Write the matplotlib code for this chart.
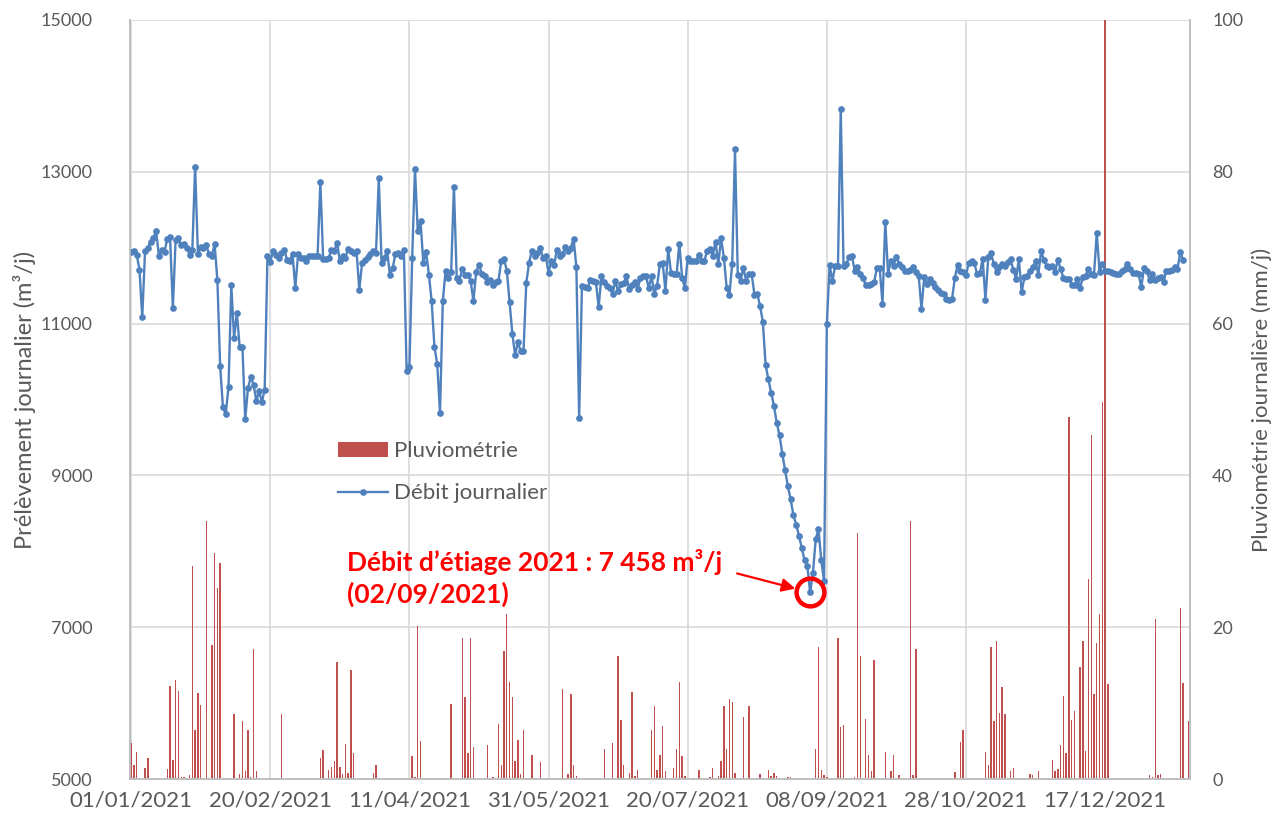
import numpy as np
import pandas as pd
import matplotlib
matplotlib.use('Agg')
import matplotlib.pyplot as plt
import matplotlib.dates as mdates
from matplotlib.patches import Patch
from matplotlib.lines import Line2D

plt.rcParams['font.family'] = ['Lato', 'DejaVu Sans']

# Débit journalier (m3/j), un point par jour depuis le 01/01/2021
debit = [
    11945, 11954, 11910, 11712, 11083, 11954, 12000, 12077, 12130, 12218,
    11890, 11975, 11945, 12120, 12138, 11206, 12108, 12130, 12033, 12050,
    12000, 11910, 11975, 13066, 11923, 12006, 12000, 12033, 11919, 11890,
    12050, 11571, 10437, 9896, 9808, 10165, 11505, 10810, 11140, 10692,
    10692, 9743, 10150, 10296, 10195, 9984, 10107, 9970, 10130, 11890,
    11810, 11963, 11901, 11866, 11932, 11975, 11844, 11830, 11919, 11470,
    11919, 11866, 11866, 11822, 11890, 11890, 11890, 11890, 12864, 11857,
    11857, 11866, 11975, 11960, 12064, 11830, 11890, 11866, 11989, 11954,
    11932, 11954, 11448, 11800, 11844, 11875, 11919, 11963, 11932, 12912,
    11800, 11866, 11963, 11637, 11734, 11919, 11932, 11890, 11975, 10380,
    10424, 11866, 13040, 12218, 12350, 11800, 11940, 11646, 11294, 10692,
    10468, 9822, 11294, 11699, 11602, 11681, 12802, 11602, 11567, 11725,
    11646, 11637, 11567, 11294, 11681, 11778, 11655, 11624, 11549, 11580,
    11514, 11549, 11567, 11822, 11853, 11699, 11281, 10864, 10582, 10758,
    10635, 10635, 11536, 11800, 11963, 11897, 11932, 12000, 11866, 11897,
    11668, 11830, 11769, 11975, 11890, 11919, 12006, 11963, 12000, 12120,
    11743, 9756, 11496, 11479, 11465, 11575, 11567, 11553, 11215, 11624,
    11553, 11496, 11465, 11391, 11567, 11426, 11523, 11536, 11624, 11450,
    11514, 11549, 11450, 11602, 11624, 11624, 11470, 11628, 11395, 11497,
    11782, 11804, 11431, 11980, 11672, 11660, 11650, 12055, 11606, 11466,
    11870, 11826, 11830, 11830, 11905, 11826, 11830, 11958, 11980, 11892,
    12081, 11782, 12125, 11870, 11475, 11378, 11791, 13299, 11642, 11563,
    11738, 11563, 11659, 11650, 11378, 11395, 11233, 11026, 10455, 10266,
    10090, 9914, 9694, 9527, 9285, 9066, 8859, 8683, 8472, 8353,
    8200, 8046, 7879, 7804, 7458, 7716, 8156, 8296, 7879, 7606,
    10991, 11777, 11559, 11764, 11764, 13830, 11764, 11786, 11873, 11895,
    11699, 11751, 11655, 11603, 11502, 11515, 11520, 11546, 11734, 11730,
    11262, 12345, 11655, 11830, 11764, 11882, 11786, 11742, 11699, 11699,
    11708, 11751, 11680, 11633, 11196, 11611, 11524, 11590, 11533, 11480,
    11437, 11402, 11393, 11327, 11314, 11327, 11603, 11777, 11699, 11677,
    11646, 11795, 11821, 11795, 11655, 11664, 11851, 11314, 11873, 11925,
    11786, 11677, 11742, 11786, 11764, 11808, 11852, 11707, 11590, 11852,
    11415, 11611, 11633, 11699, 11742, 11821, 11646, 11952, 11838, 11764,
    11751, 11764, 11677, 11838, 11720, 11603, 11590, 11590, 11515, 11502,
    11590, 11472, 11611, 11633, 11720, 11655, 11646, 12192, 11677, 11786,
    11699, 11690, 11677, 11664, 11655, 11655, 11699, 11720, 11786, 11720,
    11664, 11664, 11655, 11480, 11734, 11699, 11568, 11655, 11580, 11600,
    11612, 11546, 11699, 11690, 11708, 11742, 11720, 11939, 11838,
]

# Pluviométrie journalière (mm/j) : jours de pluie (décalage depuis le 01/01/2021)
pluie_jours = [
    0, 1, 2, 5, 6, 13, 14, 15, 16, 17, 18, 19, 21, 22, 23, 24, 25, 26, 27, 29,
    30, 31, 32, 34, 37, 39, 40, 41, 42, 43, 44, 45, 54, 59, 60,
    68, 69, 71, 72, 73, 74, 75, 76, 77, 78, 79, 80, 87, 88, 101, 102, 103, 104,
    115, 119, 120, 121, 122, 123,
    128, 130, 132, 133, 134, 135, 136, 137, 138, 139, 140, 141, 144, 147, 155,
    157, 158, 159, 160, 170, 173, 175, 176, 177, 179, 180, 181, 182, 187, 188,
    189, 190, 191, 192, 195, 196, 197, 198, 199, 204, 208, 209, 211, 212, 213,
    214, 215, 216, 217, 220, 222, 226, 229, 230, 231, 232, 236, 237, 246, 247,
    248, 249, 250,
    254, 255, 256, 257, 259, 260, 261, 262, 264, 265, 266, 267, 271, 272, 273,
    274, 275, 276, 280, 281, 282, 296, 298, 299, 302, 307, 308, 309, 310, 311,
    312, 313,
    314, 315, 316, 317, 321, 323, 324, 325, 326, 331, 332, 333, 334, 335, 336,
    337, 338, 339, 340, 341, 342, 343, 344, 345, 346, 347, 348, 349, 350, 351,
    353, 366, 367, 368, 369, 370, 371, 377, 378, 380,
]
pluie_mm = [
    4.7, 1.8, 3.5, 1.5, 2.8, 1.3, 12.3, 2.5, 13.0, 11.6, 0.3, 0.2, 0.5, 28.0, 6.5, 11.3, 9.8, 0.1, 34.0, 17.6,
    29.8, 25.2, 28.4, 0.1, 8.6, 0.6, 7.6, 1.0, 6.5, 0.2, 17.1, 1.1, 8.6, 0.1, 0.1,
    2.8, 3.8, 1.2, 1.6, 2.4, 15.4, 1.6, 0.6, 4.6, 0.8, 14.4, 3.4, 0.8, 1.8, 3.0, 0.3, 20.2, 5.0,
    9.9, 18.6, 10.8, 3.4, 18.6, 4.2,
    4.5, 0.2, 7.2, 1.8, 16.8, 21.8, 12.8, 10.8, 2.4, 5.2, 0.6, 6.4, 3.2, 2.2, 11.8,
    0.6, 11.2, 1.8, 0.4, 4.0, 4.8, 16.2, 7.8, 1.8, 0.8, 11.4, 0.4, 1.2, 6.4, 9.6,
    1.2, 3.2, 7.0, 1.0, 1.4, 4.0, 12.8, 3.0, 0.4, 1.2, 0.2, 1.4, 0.4, 2.4, 9.6,
    4.0, 10.6, 10.2, 0.8, 8.2, 9.6, 0.6, 1.2, 0.4, 0.8, 0.4, 0.2, 0.2, 4.0, 17.4,
    1.2, 0.5, 0.3,
    18.6, 6.9, 7.1, 0.1, 0.1, 0.3, 32.4, 16.2, 7.9, 3.2, 1.1, 15.7, 3.5, 0.1, 1.1,
    3.2, 0.1, 0.5, 34.0, 0.5, 17.1, 0.9, 4.9, 6.5, 0.1, 3.5, 1.9, 17.4, 7.7, 18.2,
    8.7, 12.1,
    8.6, 0.1, 1.0, 1.5, 0.1, 0.7, 0.5, 0.1, 1.0, 2.5, 1.1, 1.3, 4.5, 11.0, 3.4,
    47.7, 7.8, 9.0, 0.1, 14.8, 18.2, 3.7, 26.3, 45.3, 11.2, 17.9, 21.8, 49.7, 120.0, 12.5,
    0.1, 0.5, 0.3, 21.1, 0.5, 0.7, 0.1, 22.5, 12.7, 7.7,
]

date_debut = pd.Timestamp('2021-01-01')
ticks_jours = [0, 50, 100, 150, 200, 250, 300, 350]
etiage_jour = 244
etiage_valeur = 7458

BLEU = '#4F81BD'
ROUGE = '#C0504D'
GRIS_TEXTE = '#595959'
GRIS_GRILLE = '#d9d9d9'

dates_debit = pd.date_range(date_debut, periods=len(debit), freq='D')
dates_pluie = date_debut + pd.to_timedelta(pluie_jours, unit='D')
dates_ticks = date_debut + pd.to_timedelta(ticks_jours, unit='D')
date_etiage = date_debut + pd.Timedelta(days=etiage_jour)

fig = plt.figure(figsize=(12.86, 8.23), dpi=100)
ax2 = fig.add_axes([130 / 1286, 44 / 823, 1060 / 1286, 759 / 823])
ax = ax2.twinx()
ax.yaxis.tick_left()
ax.yaxis.set_label_position('left')
ax2.yaxis.tick_right()
ax2.yaxis.set_label_position('right')
ax.set_zorder(ax2.get_zorder() + 1)
ax.patch.set_visible(False)

# Pluviométrie (axe secondaire, en arrière-plan)
ax2.bar(dates_pluie, pluie_mm, width=0.5, color=ROUGE, linewidth=0)
ax2.set_ylim(0, 100)
ax2.set_yticks([0, 20, 40, 60, 80, 100])

# Débit journalier
ax.plot(dates_debit, debit, color=BLEU, linewidth=1.7, marker='o', markersize=3.8)
ax.set_ylim(5000, 15000)
ax.set_yticks(range(5000, 15001, 2000))

# Grille
ax2.set_axisbelow(True)
ax2.grid(True, color=GRIS_GRILLE, linewidth=1.2)
x0 = date_debut - pd.Timedelta(days=0.4)
x1 = date_debut + pd.Timedelta(days=380.5)
ax2.set_xlim(x0, x1)
ax2.set_xticks(dates_ticks)
ax2.xaxis.set_major_formatter(mdates.DateFormatter('%d/%m/%Y'))

for a in (ax, ax2):
    a.spines['top'].set_visible(False)
    for side in ('left', 'right', 'bottom'):
        a.spines[side].set_color('#bfbfbf')
        a.spines[side].set_linewidth(1.2)
    a.tick_params(length=0, labelcolor=GRIS_TEXTE)

ax.tick_params(axis='y', labelsize=13, pad=27)
ax2.tick_params(axis='y', labelsize=13, pad=16)
ax2.tick_params(axis='x', labelsize=16, pad=8)

ax.set_ylabel('Prélèvement journalier (m³/j)', fontsize=17, color=GRIS_TEXTE, labelpad=3)
ax2.set_ylabel('Pluviométrie journalière (mm/j)', fontsize=16, color=GRIS_TEXTE, labelpad=6)

# Point d'étiage
ax.plot([date_etiage], [etiage_valeur], marker='o', markersize=20, markerfacecolor='none',
        markeredgecolor='red', markeredgewidth=3.2, linestyle='none', zorder=5)
ax.annotate('', xy=(date_etiage, etiage_valeur), xytext=(-73, 19),
            textcoords='offset pixels',
            arrowprops=dict(arrowstyle='-|>', color='red', lw=1.6, mutation_scale=20,
                            shrinkA=0, shrinkB=11))
ax.text(0.2047, 0.303, 'Débit d’étiage 2021 : 7 458 m³/j\n(02/09/2021)',
        transform=ax.transAxes, color='red', fontsize=19, fontweight='bold',
        ha='left', va='top', linespacing=1.3)

# Légende
poignees = [Patch(facecolor=ROUGE, edgecolor='none'),
            Line2D([], [], color=BLEU, linewidth=1.7, marker='o', markersize=3.8)]
ax.legend(poignees, ['Pluviométrie', 'Débit journalier'], loc='upper left',
          bbox_to_anchor=(0.196, 0.445), frameon=False, fontsize=16,
          labelcolor=GRIS_TEXTE, handlelength=2.25, labelspacing=1.0,
          borderpad=0, borderaxespad=0, handletextpad=0.3)

fig.savefig('out.png', dpi=100)
